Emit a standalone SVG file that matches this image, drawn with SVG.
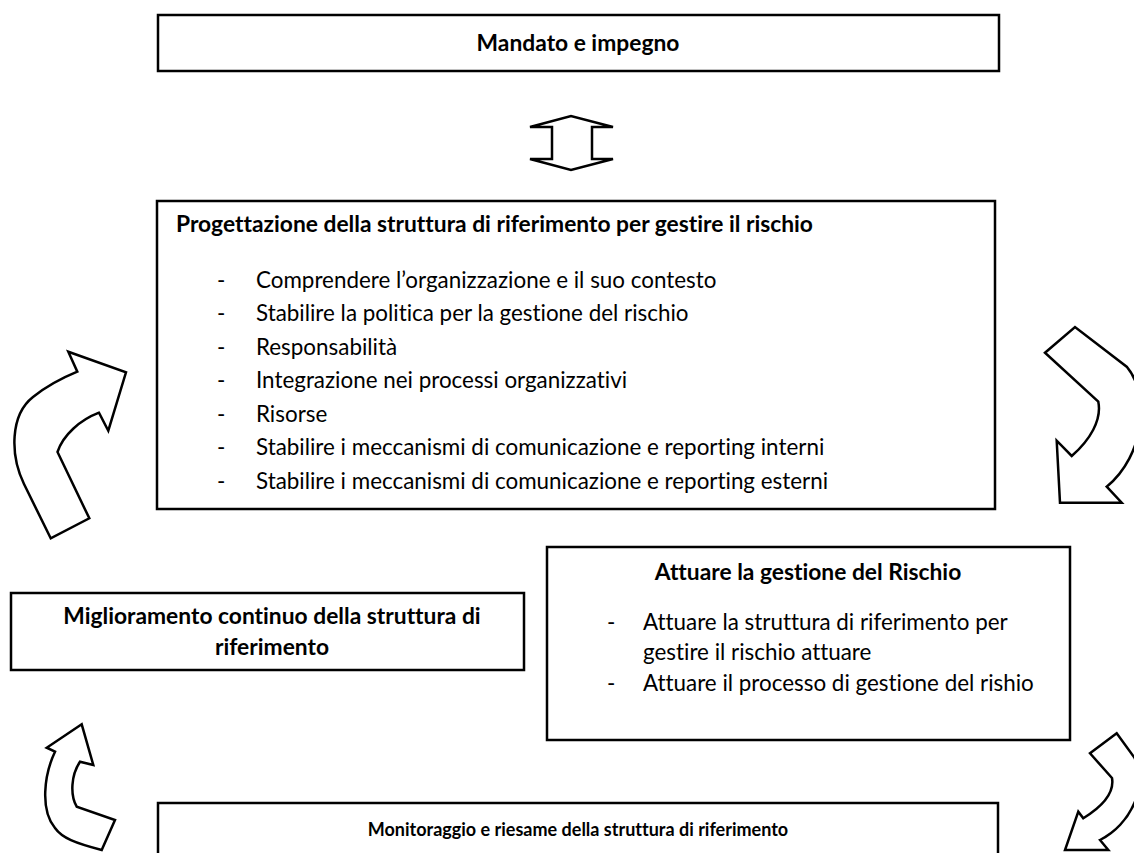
<svg xmlns="http://www.w3.org/2000/svg" width="1134" height="853" viewBox="0 0 1134 853">
<defs>
<style>
.box{fill:#fff;stroke:#000;stroke-width:2.5}
.arr{fill:#fff;stroke:#000;stroke-width:2.5;stroke-linejoin:miter}
.t{font-family:Lato,"Liberation Sans",sans-serif;font-size:22.4px;fill:#000;font-variant-ligatures:none;font-feature-settings:"liga" 0}
.b{font-weight:bold;font-size:22.8px}
.c{text-anchor:middle}
.s{font-size:18px}
</style>
</defs>
<rect width="1134" height="853" fill="#fff"/>
<g id="mandato">
<rect class="box" x="158" y="15" width="841" height="56"/>
<text class="t b c" x="578" y="51">Mandato e impegno</text>
</g>
<g id="progettazione">
<rect class="box" x="157" y="201" width="838" height="308"/>
<text class="t b" x="176" y="232">Progettazione della struttura di riferimento per gestire il rischio</text>
<text class="t" x="217" y="288">-</text><text class="t" x="256" y="288">Comprendere l’organizzazione e il suo contesto</text>
<text class="t" x="217" y="321">-</text><text class="t" x="256" y="321">Stabilire la politica per la gestione del rischio</text>
<text class="t" x="217" y="355">-</text><text class="t" x="256" y="355">Responsabilità</text>
<text class="t" x="217" y="388">-</text><text class="t" x="256" y="388">Integrazione nei processi organizzativi</text>
<text class="t" x="217" y="422">-</text><text class="t" x="256" y="422">Risorse</text>
<text class="t" x="217" y="455">-</text><text class="t" x="256" y="455">Stabilire i meccanismi di comunicazione e reporting interni</text>
<text class="t" x="217" y="489">-</text><text class="t" x="256" y="489">Stabilire i meccanismi di comunicazione e reporting esterni</text>
</g>
<g id="miglioramento">
<rect class="box" x="11" y="593" width="513" height="77"/>
<text class="t b c" x="272" y="624">Miglioramento continuo della struttura di</text>
<text class="t b c" x="272" y="655">riferimento</text>
</g>
<g id="attuare">
<rect class="box" x="547" y="547" width="523" height="193"/>
<text class="t b c" x="808" y="580">Attuare la gestione del Rischio</text>
<text class="t" x="607" y="630">-</text><text class="t" x="643" y="630">Attuare la struttura di riferimento per</text>
<text class="t" x="643" y="660">gestire il rischio attuare</text>
<text class="t" x="607" y="691">-</text><text class="t" x="643" y="691">Attuare il processo di gestione del rishio</text>
</g>
<g id="monitoraggio">
<rect class="box" x="158" y="803" width="840" height="80"/>
<text class="t b c s" x="578" y="836">Monitoraggio e riesame della struttura di riferimento</text>
</g>
<g id="connectors">
<path class="arr" d="M530,127 L571,116 L613,127 L592,127 L592,159 L613,159 L571,170 L530,159 L552,159 L552,127 Z"/>
<path class="arr" d="M50.7,538.3 L24,484 C10,455 10,415 33,397 C48,385 62,378 77.3,371.7 L68.3,351.7 L126,372.3 L108.3,430.7 L99,412.7 C80,420 63,435 57.5,452 L89.3,518.3 Z"/>
<path class="arr" d="M1045,352.7 L1075,327 L1127,367 C1150,395 1145,455 1106.7,486.7 L1121.7,502.7 L1060,502.7 L1056.7,440.7 L1071.7,456 C1090,440 1102,420 1098.3,401.7 Z"/>
<path class="arr" d="M81.7,724.3 L46.7,747.7 L55,751.7 C44,775 40,810 55,828 C62,838 75,843 101.7,850 L115,820 L76.7,806.7 C70,795 71,775 80,761.7 L93.3,765 Z"/>
<path class="arr" d="M1090,753.3 L1116.7,733.3 L1134,757 C1150,785 1130,825 1100,840 L1108.3,850 L1065,850 L1078.3,811.7 L1083.3,818.3 C1100,808 1115,795 1112,778 Z"/>
</g>
</svg>
